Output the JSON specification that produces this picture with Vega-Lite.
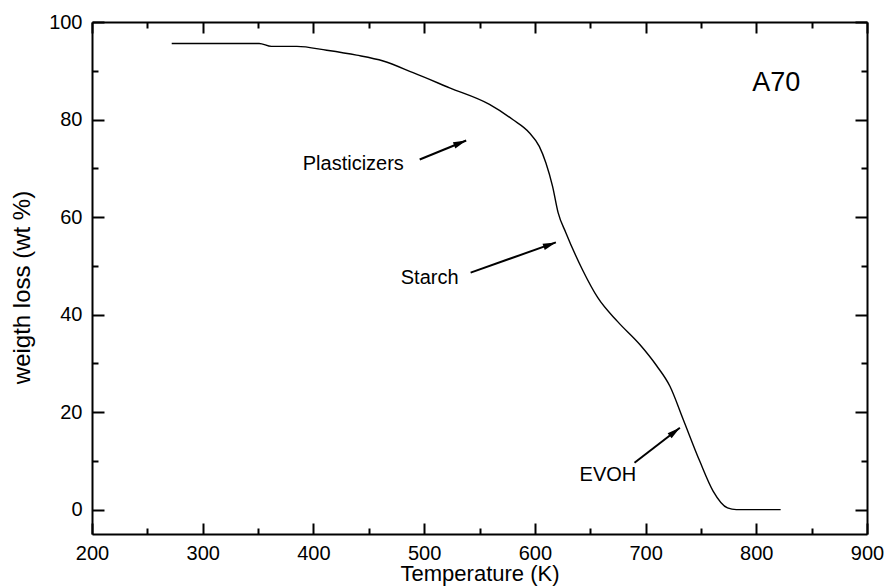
{
  "$schema": "https://vega.github.io/schema/vega-lite/v6.json",
  "autosize": "none",
  "width": 775,
  "height": 512,
  "padding": {"left": 92, "top": 22, "right": 18, "bottom": 52},
  "background": "white",
  "config": {
    "view": {"stroke": null},
    "font": "Liberation Sans",
    "axis": {
      "domainColor": "black", "domainWidth": 2,
      "tickColor": "black", "tickWidth": 2,
      "labelColor": "black", "labelFont": "Liberation Sans", "labelFontSize": 20,
      "titleColor": "black", "titleFont": "Liberation Sans", "titleFontWeight": "normal",
      "grid": false, "labelFlush": false, "labelOverlap": false
    }
  },
  "datasets": {
    "curve": [
      {"T": 272, "w": 95.6}, {"T": 300, "w": 95.6}, {"T": 351, "w": 95.6}, {"T": 362, "w": 95.0},
      {"T": 385, "w": 95.0}, {"T": 412, "w": 94.2}, {"T": 439, "w": 93.2}, {"T": 463, "w": 92.0},
      {"T": 490, "w": 89.6}, {"T": 523, "w": 86.5}, {"T": 559, "w": 83.1}, {"T": 580, "w": 80.0},
      {"T": 595, "w": 77.3}, {"T": 604, "w": 74.5}, {"T": 610, "w": 71.1}, {"T": 616, "w": 66.3},
      {"T": 621, "w": 60.9}, {"T": 628, "w": 56.8}, {"T": 643, "w": 49.2}, {"T": 657, "w": 43.4},
      {"T": 675, "w": 38.5}, {"T": 695, "w": 33.8}, {"T": 710, "w": 29.5}, {"T": 722, "w": 25.3},
      {"T": 734, "w": 18.5}, {"T": 749, "w": 9.9}, {"T": 761, "w": 3.8}, {"T": 774, "w": 0.35},
      {"T": 782, "w": 0}, {"T": 800, "w": 0}, {"T": 822, "w": 0}
    ],
    "arrows": [
      {"x": 496, "y": 71.8, "x2": 538, "y2": 75.7, "dir": 68},
      {"x": 542, "y": 48.6, "x2": 619, "y2": 54.8, "dir": 70},
      {"x": 690, "y": 9.6, "x2": 731, "y2": 16.8, "dir": 52}
    ],
    "labels": [
      {"x": 436, "y": 70.8, "text": "Plasticizers"},
      {"x": 505, "y": 47.4, "text": "Starch"},
      {"x": 666, "y": 7.0, "text": "EVOH"}
    ],
    "sample": [
      {"x": 818, "y": 87.4, "text": "A70"}
    ]
  },
  "layer": [
    {
      "data": {"name": "curve"},
      "mark": {"type": "line", "color": "black", "strokeWidth": 1.4, "interpolate": "monotone"},
      "encoding": {
        "x": {
          "field": "T", "type": "quantitative",
          "scale": {"domain": [200, 900], "nice": false, "zero": false},
          "axis": {
            "orient": "bottom", "title": "Temperature (K)", "titleFontSize": 22,
            "values": [200, 300, 400, 500, 600, 700, 800, 900],
            "tickSize": -11, "labelPadding": 20, "titlePadding": 0
          }
        },
        "y": {
          "field": "w", "type": "quantitative",
          "scale": {"domain": [-5, 100], "nice": false, "zero": false},
          "axis": {
            "orient": "left", "title": "weigth loss (wt %)", "titleFontSize": 24,
            "values": [0, 20, 40, 60, 80, 100],
            "tickSize": -12, "labelPadding": 22, "titlePadding": 14, "titleY": 265
          }
        }
      }
    },
    {
      "data": {"name": "curve"},
      "mark": {"type": "line", "opacity": 0},
      "encoding": {
        "x": {
          "field": "T", "type": "quantitative",
          "axis": {"orient": "top", "title": null, "labels": false, "values": [200, 300, 400, 500, 600, 700, 800, 900], "tickSize": -11}
        },
        "y": {
          "field": "w", "type": "quantitative",
          "axis": {"orient": "right", "title": null, "labels": false, "values": [0, 20, 40, 60, 80, 100], "tickSize": -12}
        }
      }
    },
    {
      "data": {"name": "curve"},
      "mark": {"type": "line", "opacity": 0},
      "encoding": {
        "x": {
          "field": "T", "type": "quantitative",
          "axis": {"orient": "bottom", "title": null, "labels": false, "domain": false, "values": [250, 350, 450, 550, 650, 750, 850], "tickSize": -6}
        },
        "y": {
          "field": "w", "type": "quantitative",
          "axis": {"orient": "left", "title": null, "labels": false, "domain": false, "values": [10, 30, 50, 70, 90], "tickSize": -6}
        }
      }
    },
    {
      "data": {"name": "curve"},
      "mark": {"type": "line", "opacity": 0},
      "encoding": {
        "x": {
          "field": "T", "type": "quantitative",
          "axis": {"orient": "top", "title": null, "labels": false, "domain": false, "values": [250, 350, 450, 550, 650, 750, 850], "tickSize": -6}
        },
        "y": {
          "field": "w", "type": "quantitative",
          "axis": {"orient": "right", "title": null, "labels": false, "domain": false, "values": [10, 30, 50, 70, 90], "tickSize": -6}
        }
      }
    },
    {
      "data": {"name": "arrows"},
      "mark": {"type": "rule", "color": "black", "strokeWidth": 2},
      "encoding": {
        "x": {"field": "x", "type": "quantitative", "axis": null},
        "y": {"field": "y", "type": "quantitative", "axis": null},
        "x2": {"field": "x2"},
        "y2": {"field": "y2"}
      }
    },
    {
      "data": {"name": "arrows"},
      "mark": {"type": "point", "shape": "M0,0L0.5,2L-0.5,2Z", "filled": true, "color": "black", "opacity": 1, "size": 170},
      "encoding": {
        "x": {"field": "x2", "type": "quantitative", "axis": null},
        "y": {"field": "y2", "type": "quantitative", "axis": null},
        "angle": {"field": "dir", "type": "quantitative", "scale": null}
      }
    },
    {
      "data": {"name": "labels"},
      "mark": {"type": "text", "font": "Liberation Sans", "fontSize": 20, "color": "black", "align": "center", "baseline": "middle"},
      "encoding": {
        "x": {"field": "x", "type": "quantitative", "axis": null},
        "y": {"field": "y", "type": "quantitative", "axis": null},
        "text": {"field": "text"}
      }
    },
    {
      "data": {"name": "sample"},
      "mark": {"type": "text", "font": "Liberation Sans", "fontSize": 27, "color": "black", "align": "center", "baseline": "middle"},
      "encoding": {
        "x": {"field": "x", "type": "quantitative", "axis": null},
        "y": {"field": "y", "type": "quantitative", "axis": null},
        "text": {"field": "text"}
      }
    }
  ],
  "resolve": {"axis": {"x": "independent", "y": "independent"}}
}
